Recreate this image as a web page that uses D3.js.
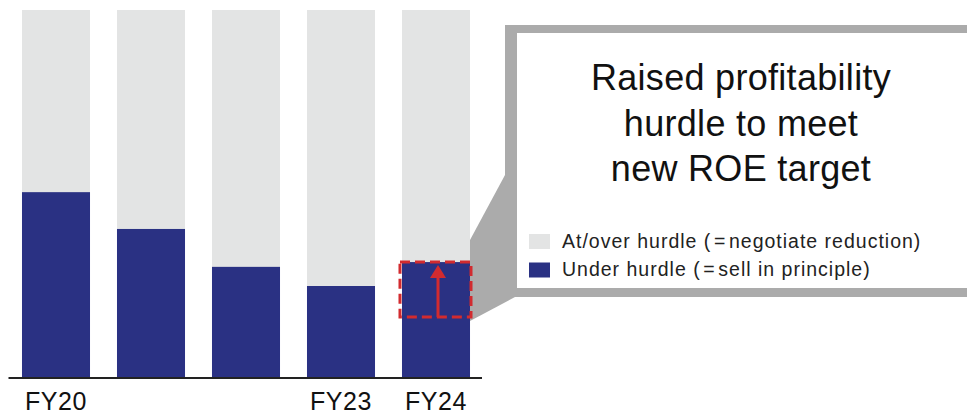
<!DOCTYPE html>
<html>
<head>
<meta charset="utf-8">
<script src="https://cdn.jsdelivr.net/npm/d3@7"></script>
<style>
  body { margin: 0; background: #fff; }
  svg { display: block; font-family: "Liberation Sans", Arial, sans-serif; }
</style>
</head>
<body>
<div id="chart"></div>
<script>
// data (% of holdings)
var years = ["FY20", "FY21", "FY22", "FY23", "FY24"];
var shownLabels = ["FY20", "FY23", "FY24"];
var underHurdle = [50.5, 40.5, 30.2, 25.0, 31.5];
var total = [100, 100, 100, 100, 100];
var oldHurdleFY24 = 16.6;   // bottom of the dashed "raised" box
var titleLines = ["Raised profitability", "hurdle to meet", "new ROE target"];
var legendLabels = ["At/over hurdle (\u200A=\u200Anegotiate reduction)", "Under hurdle (\u200A=\u200Asell in principle)"];

var W = 967, H = 414;
var grey = "#e3e4e4", navy = "#2a3183", red = "#d22b2f", frame = "#ababab";

var svg = d3.select("#chart").append("svg")
  .attr("width", W)
  .attr("height", H);

var x = d3.scaleBand()
  .domain(years)
  .range([8.5, 483.5])
  .paddingInner(0.284)
  .paddingOuter(0.142);

var y = d3.scaleLinear()
  .domain([0, 100])
  .range([378, 10]);

//grey full bars
svg.append("g").selectAll("rect")
  .data(years)
  .enter()
  .append("rect")
  .attr("x", function (d) { return x(d); })
  .attr("width", x.bandwidth())
  .attr("y", function (d, i) { return y(total[i]); })
  .attr("height", function (d, i) { return y(0) - y(total[i]); })
  .style("fill", grey);

//navy under-hurdle part
svg.append("g").selectAll("rect")
  .data(years)
  .enter()
  .append("rect")
  .attr("x", function (d) { return x(d); })
  .attr("width", x.bandwidth())
  .attr("y", function (d, i) { return y(underHurdle[i]); })
  .attr("height", function (d, i) { return y(0) - y(underHurdle[i]); })
  .style("fill", navy);

//baseline + tick labels
var xAxis = d3.axisBottom(x)
  .tickSize(0)
  .tickPadding(14)
  .tickFormat(function (d) { return shownLabels.indexOf(d) >= 0 ? d : ""; });

var ax = svg.append("g")
  .attr("transform", "translate(0," + y(0) + ")")
  .call(xAxis);
ax.select(".domain").attr("stroke", "#222").attr("stroke-width", 2)
  .attr("d", "M" + (x.range()[0]) + ",0H" + (x.range()[1] - 1.5));
ax.selectAll("text")
  .attr("dy", "0.71em")
  .style("font-size", "25px")
  .style("letter-spacing", "0.6px")
  .style("font-family", "Liberation Sans, Arial, sans-serif")
  .style("fill", "#111");

//callout box
var last = years[years.length - 1];
var bx = x(last) + x.bandwidth();
var boxL = 505, boxT = 25, boxB = 297;

svg.append("polygon")
  .attr("points", [
    [bx, y(underHurdle[4]) - 22],
    [boxL, 175],
    [boxL + 10, boxB],
    [bx, y(oldHurdleFY24) + 4]
  ].map(function (p) { return p.join(","); }).join(" "))
  .style("fill", frame);

svg.append("rect")
  .attr("x", boxL).attr("y", boxT)
  .attr("width", W - boxL + 10).attr("height", boxB - boxT)
  .style("fill", frame);
svg.append("rect")
  .attr("x", boxL + 12).attr("y", boxT + 8)
  .attr("width", W - boxL).attr("height", boxB - boxT - 17)
  .style("fill", "#fff");

svg.append("g").selectAll("text")
  .data(titleLines)
  .enter()
  .append("text")
  .attr("x", 741)
  .attr("y", function (d, i) { return 90 + i * 45.5; })
  .attr("text-anchor", "middle")
  .style("font-size", "36px")
  .style("letter-spacing", "0.3px")
  .style("fill", "#111")
  .text(function (d) { return d; });

var leg = svg.append("g").selectAll("g")
  .data(legendLabels)
  .enter()
  .append("g")
  .attr("transform", function (d, i) { return "translate(529," + (234 + i * 28.5) + ")"; });
leg.append("rect")
  .attr("width", 21).attr("height", 15)
  .style("fill", function (d, i) { return i == 0 ? grey : navy; });
leg.append("text")
  .attr("x", 33).attr("y", 13.5)
  .style("font-size", "19.5px")
  .style("letter-spacing", "1px")
  .style("fill", "#222")
  .text(function (d) { return d; });

//dashed red box showing the raised hurdle
svg.append("rect")
  .attr("x", x(last) - 2)
  .attr("y", y(underHurdle[4]))
  .attr("width", x.bandwidth() + 3)
  .attr("height", y(oldHurdleFY24) - y(underHurdle[4]))
  .style("fill", "none")
  .style("stroke", red)
  .style("stroke-width", 3)
  .style("stroke-dasharray", "10,5");

var ax5 = x(last) + x.bandwidth() / 2 + 2;
svg.append("line")
  .attr("x1", ax5).attr("x2", ax5)
  .attr("y1", y(oldHurdleFY24)).attr("y2", y(underHurdle[4]) + 14)
  .style("stroke", red)
  .style("stroke-width", 3);
svg.append("path")
  .attr("d", "M" + ax5 + "," + (y(underHurdle[4]) + 3) +
    "L" + (ax5 - 8) + "," + (y(underHurdle[4]) + 16) +
    "L" + (ax5 + 8) + "," + (y(underHurdle[4]) + 16) + "Z")
  .style("fill", red);
</script>
</body>
</html>
